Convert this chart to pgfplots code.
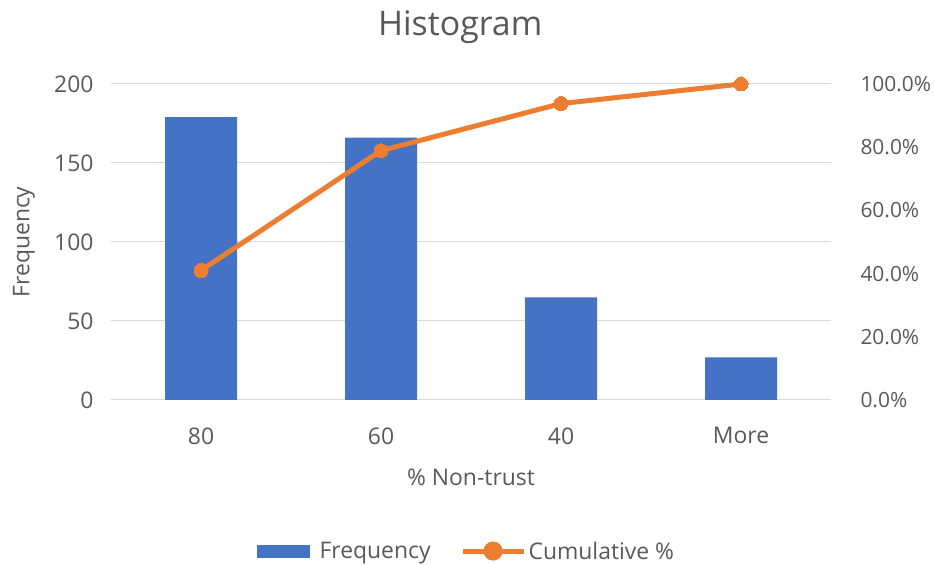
\documentclass[border=0pt]{standalone}
\usepackage{pgfplots}
\pgfplotsset{compat=1.18}
\usepackage{fontspec}
\setmainfont{Open Sans}
\definecolor{barblue}{HTML}{4472C4}
\definecolor{lineorange}{HTML}{ED7D31}
\definecolor{gridgrey}{HTML}{D9D9D9}
\definecolor{textgrey}{HTML}{595959}

\pgfplotsset{
  /pgf/number format/assume math mode=true,
  base/.style={
    scale only axis, width=720bp, height=316bp,
    at={(111bp,165bp)}, anchor=south west,
    xmin=-0.5, xmax=3.5,
    axis line style={draw=none},
    tick style={draw=none},
    tick label style={font=\fontsize{23}{27}\selectfont, text=textgrey},
    label style={font=\fontsize{23}{27}\selectfont, text=textgrey},
  },
}

\begin{document}
\begin{tikzpicture}
\path[use as bounding box] (0,0) rectangle (935bp,565bp);

% Frequency bars (left axis)
\begin{axis}[base,
  ymin=0, ymax=200, ytick={0,50,100,150,200},
  ymajorgrids, grid style={gridgrey, line width=1bp},
  xtick={0,1,2,3}, xticklabels={80,60,40,More},
  xticklabel style={yshift=-24bp},
  yticklabel style={xshift=-14bp},
  ylabel={Frequency},
  ylabel style={at={(axis description cs:-0.121,0.5)}, anchor=center},
  xlabel={\% Non-trust},
  xlabel style={at={(axis description cs:0.5,-0.244)}, anchor=center},
  title={Histogram},
  title style={at={(axis description cs:0.485,1.133)}, anchor=base,
    font=\fontsize{34}{40}\selectfont, text=textgrey},
]
\addplot[ybar, bar width=72bp, fill=barblue, draw=none] coordinates {
  (0,179) (1,166) (2,65) (3,27)
};
\end{axis}

% Cumulative percentage (right axis)
\begin{axis}[base,
  ymin=0, ymax=1, ytick={0,0.2,0.4,0.6,0.8,1},
  axis y line*=right, axis x line=none,
  xtick=\empty,
  yticklabel={\pgfmathparse{100*\tick}\pgfmathprintnumber[fixed,fixed zerofill,precision=1]{\pgfmathresult}\%},
  yticklabel style={anchor=west, xshift=26bp, font=\fontsize{21}{25}\selectfont},
  clip=false,
  legend columns=2,
  legend style={at={(axis description cs:0.494,-0.478)}, anchor=center,
    draw=none, fill=none, font=\fontsize{23}{27}\selectfont, text=textgrey,
    /tikz/every even column/.append style={column sep=28bp}},
]
\addlegendimage{legend image code/.code={
  \path[draw=none, fill=none] (0bp,0bp) -- (60bp,0bp);
  \fill[barblue] (0bp,-6bp) rectangle (52bp,6bp);}}
\addlegendentry{Frequency}
\addplot[lineorange, line width=5bp, mark=*, mark size=7bp,
  mark options={fill=lineorange, draw=lineorange, line width=0pt},
  legend image code/.code={
    \path[draw=none, fill=none] (0bp,0bp) -- (62bp,0bp);
    \draw[lineorange, line width=5bp] (0bp,0bp) -- (61bp,0bp);
    \fill[lineorange] (30bp,0bp) circle (7bp);}]
  coordinates {
  (0,0.410) (1,0.789) (2,0.938) (3,1.000)
};
\addlegendentry{Cumulative \%}
\end{axis}
\end{tikzpicture}
\end{document}
